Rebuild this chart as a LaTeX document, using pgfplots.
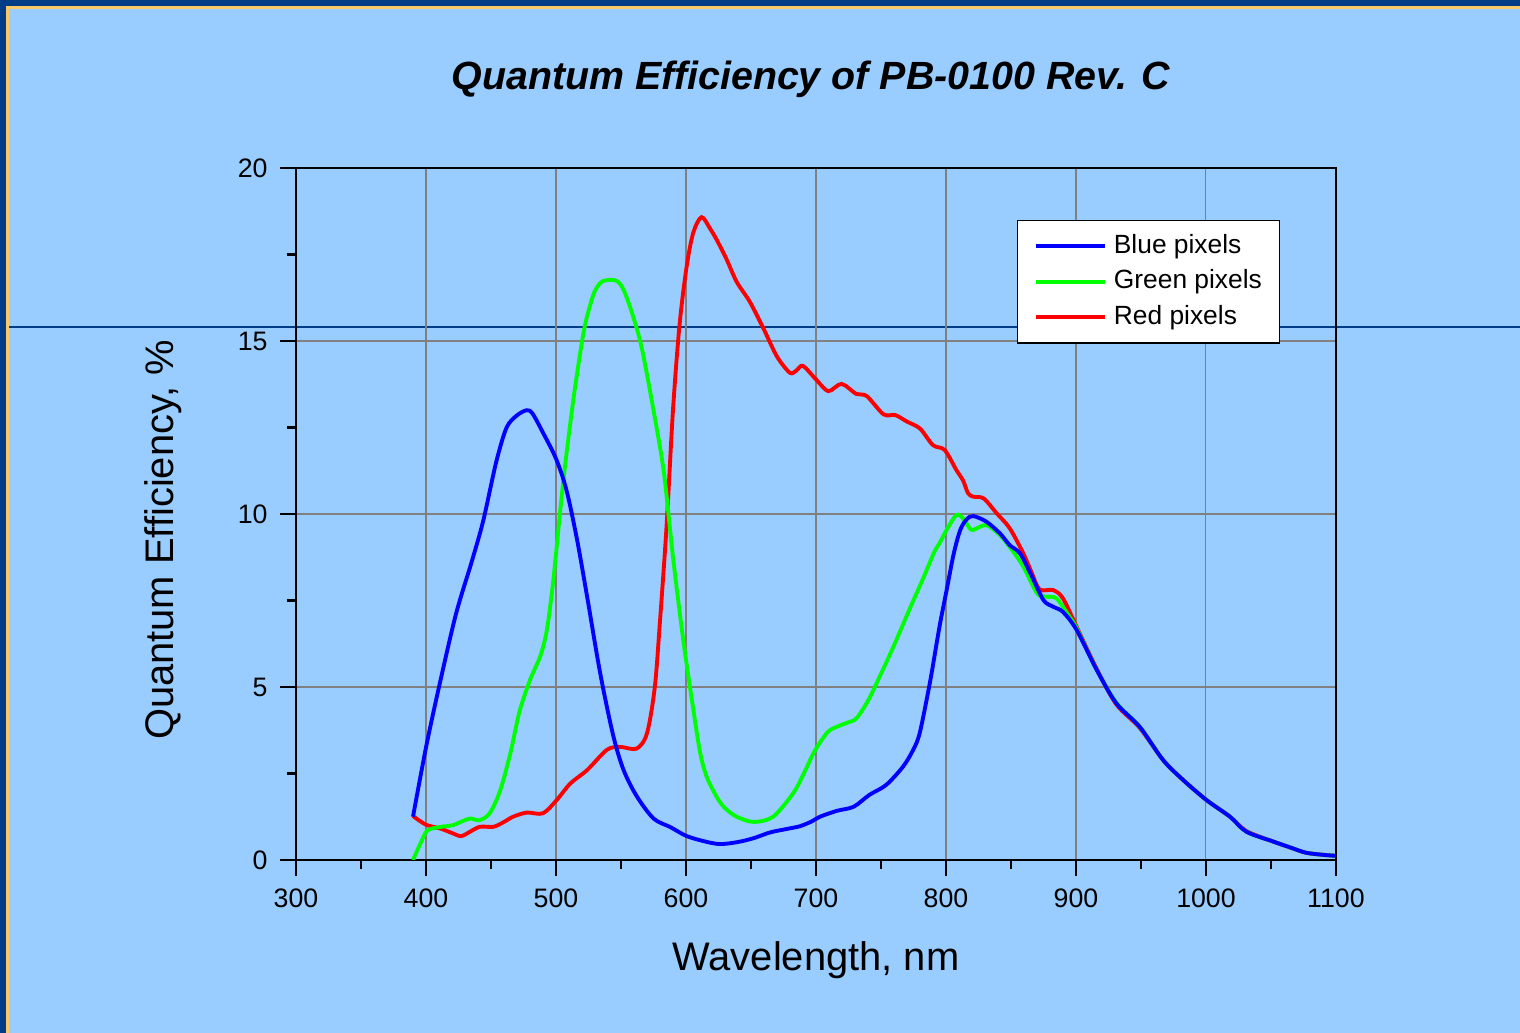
\documentclass[border=0pt]{standalone}
\usepackage{pgfplots}
\pgfplotsset{compat=1.18}
\usepackage{fontspec}
\setmainfont{Liberation Sans}

\definecolor{slidebg}{RGB}{153,204,255}
\definecolor{framenavy}{RGB}{0,61,134}
\definecolor{framegold}{RGB}{250,200,100}
\definecolor{gridgray}{RGB}{128,128,128}
\definecolor{qeblue}{RGB}{0,0,255}
\definecolor{qegreen}{RGB}{0,255,0}
\definecolor{qered}{RGB}{255,0,0}

\begin{document}
\begin{tikzpicture}
% slide background, 1 px = 0.01cm
\fill[slidebg] (0,0) rectangle (15.2,10.33);
\fill[framenavy] (0,0) rectangle (0.06,10.33);
\fill[framenavy] (0,10.27) rectangle (15.2,10.33);
\fill[framegold] (0.06,0) rectangle (0.09,10.27);
\fill[framegold] (0.06,10.24) rectangle (15.2,10.27);
\draw[framenavy,line width=0.45pt] (0.09,7.06) -- (15.2,7.06);

\node[anchor=base,font=\fontsize{11.2}{13}\selectfont\bfseries\itshape] at (8.11,9.43) {Quantum Efficiency of PB-0100 Rev. C};

\begin{axis}[at={(2.96cm,1.73cm)},anchor=south west,
  scale only axis,width=10.4cm,height=6.92cm,
  xmin=300,xmax=1100,ymin=0,ymax=20,
  xtick={300,400,...,1100},ytick={0,5,...,20},
  minor x tick num=1,minor y tick num=1,
  xtick pos=left,ytick pos=left,tick align=outside,
  major tick length=0.16cm,minor tick length=0.09cm,
  tick style={black,line width=0.6pt},
  axis line style={black,line width=0.7pt},
  grid=major,grid style={gridgray,line width=0.3pt},
  /pgf/number format/assume math mode=true,
  /pgf/number format/1000 sep={},
  tick label style={font=\fontsize{7.6}{9}\selectfont},
  xlabel={Wavelength, nm},ylabel={Quantum Efficiency, \%},
  label style={font=\fontsize{11.35}{13}\selectfont},
  every axis x label/.append style={at={(axis description cs:0.5,-0.159)},anchor=base},
  every axis y label/.append style={at={(axis description cs:-0.128,0.4624)},anchor=center},
  legend style={at={(0.693,0.925)},anchor=north west,draw=black,line width=0.45pt,fill=white,
    font=\fontsize{7.5}{9}\selectfont,row sep=-0.85pt,inner xsep=3pt,inner ysep=1.85pt},
  legend cell align=left,reverse legend,
  legend image code/.code={\path (0cm,0cm); \draw[#1] (0.06cm,0cm) -- (0.75cm,0cm);},
]
\addplot[qered,line width=1.1pt,smooth] coordinates {
(390,1.27) (400,1.02) (411,0.91) (420,0.78) (427,0.69) (434,0.82) (441.5,0.96) (452,0.96)
(460,1.1) (467,1.25) (477.5,1.37) (490,1.35) (500.5,1.73) (511,2.21) (524,2.6) (539,3.18)
(549,3.27) (562,3.22) (570,3.66) (576,4.99) (580,6.9) (585,9.61) (590,13.0) (595,15.45)
(600.5,17.15) (605.6,18.13) (612,18.58) (618.5,18.25) (624,17.9) (631,17.38) (639,16.71)
(649,16.14) (659.5,15.37) (670,14.55) (680,14.08) (685,14.15) (690,14.28) (700.5,13.87)
(709.5,13.55) (719.7,13.76) (731,13.47) (739,13.41) (752,12.88) (761,12.86) (770,12.67)
(780,12.47) (790,11.99) (799,11.85) (808,11.27) (813,10.98) (817,10.6) (821,10.5) (829,10.45)
(839,10.02) (849,9.59) (859.5,8.86) (866,8.3) (872,7.82) (882.5,7.8) (890,7.56) (900.5,6.74)
(916,5.52) (931,4.5) (949,3.82) (967,2.89) (982.5,2.31) (1000.5,1.73) (1018.5,1.25)
(1031,0.84) (1052,0.53) (1065,0.36) (1077,0.21) (1090,0.15) (1100,0.12)};
\addlegendentry{Red pixels}
\addplot[qegreen,line width=1.1pt,smooth] coordinates {
(390,0) (396,0.5) (401,0.85) (410,0.95) (420,1.0) (428,1.12) (434,1.2) (441,1.15) (449,1.35)
(457,2.0) (465,3.1) (472,4.3) (480,5.2) (488,5.9) (493,6.65) (498,8.1) (503,10.0) (507,11.4)
(513,13.2) (518,14.5) (522,15.4) (526,16.0) (530,16.45) (536,16.73) (547,16.73) (554,16.3)
(565,14.96) (575,13.0) (583,11.2) (590,8.76) (598,6.33) (606,4.26) (611,3.08) (616,2.4)
(624,1.8) (630,1.5) (639,1.25) (652,1.1) (667,1.25) (682.5,1.93) (690,2.45) (698,3.08)
(705,3.5) (711,3.76) (724,3.97) (731,4.09) (740,4.6) (749,5.3) (760,6.2) (772,7.25) (782,8.1)
(791,8.9) (795,9.15) (800.5,9.54) (808,9.97) (813,9.88) (818,9.6) (821,9.54) (831,9.68)
(841.5,9.39) (850,9.0) (859.5,8.48) (870,7.71) (877,7.61) (885,7.56) (895,7.03) (900.5,6.7)
(916,5.49) (931,4.55) (949,3.85) (967,2.89) (982.5,2.31) (1000.5,1.73) (1018.5,1.25)
(1031,0.82) (1052,0.53) (1065,0.36) (1077,0.21) (1090,0.15) (1100,0.12)};
\addlegendentry{Green pixels}
\addplot[qeblue,line width=1.1pt,smooth] coordinates {
(390,1.25) (400,3.25) (410,5.0) (423,7.1) (435,8.6) (444,9.8) (454,11.5) (462,12.5)
(470,12.85) (477.5,13.0) (482,12.9) (490,12.35) (500,11.6) (508,10.7) (516,9.3) (524,7.6)
(534,5.4) (544,3.6) (552,2.6) (562,1.85) (575,1.2) (588,0.95) (600,0.7) (613,0.55)
(626,0.46) (640,0.52) (652,0.63) (665,0.8) (678,0.9) (688,0.98) (697,1.12) (703,1.25)
(716,1.42) (729,1.54) (741,1.88) (754,2.17) (767,2.7) (775,3.2) (780,3.7) (788,5.2)
(795,6.74) (800.5,7.8) (806,8.86) (811,9.54) (816,9.85) (821,9.94) (831,9.78) (841.5,9.44)
(849,9.1) (857,8.86) (865,8.28) (875,7.51) (882.5,7.32) (890,7.17) (900.5,6.65) (916,5.49)
(931,4.53) (949,3.85) (967,2.89) (982.5,2.31) (1000.5,1.73) (1018.5,1.25) (1031,0.82)
(1052,0.53) (1065,0.36) (1077,0.21) (1090,0.15) (1100,0.12)};
\addlegendentry{Blue pixels}
\end{axis}
\pgfresetboundingbox
\path[use as bounding box] (0,0) rectangle (15.2,10.33);
\end{tikzpicture}
\end{document}
